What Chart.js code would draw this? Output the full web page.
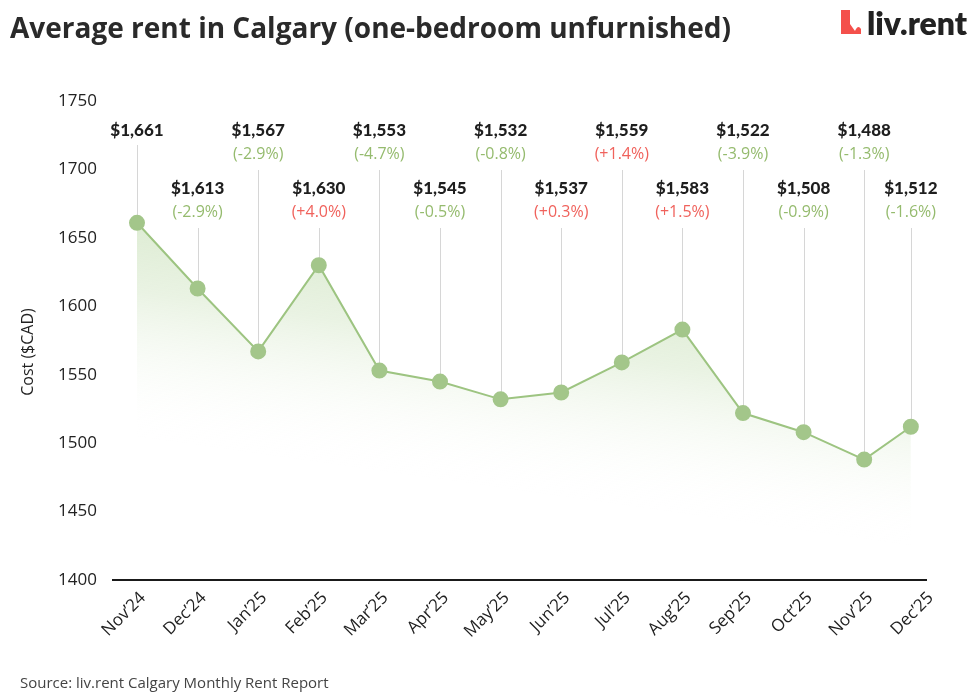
<!DOCTYPE html>
<html>
<head>
<meta charset="utf-8">
<script src="https://cdn.jsdelivr.net/npm/chart.js@4.4.1/dist/chart.umd.min.js"></script>
<style>
  html, body { margin: 0; padding: 0; background: #fff; }
  #wrap { position: relative; width: 980px; height: 700px; }
</style>
</head>
<body>
<div id="wrap"><canvas id="c" width="980" height="700"></canvas></div>
<script>
// ---- data ----
const categories = ["Nov\u201924","Dec\u201924","Jan\u201925","Feb\u201925","Mar\u201925","Apr\u201925","May\u201925","Jun\u201925","Jul\u201925","Aug\u201925","Sep\u201925","Oct\u201925","Nov\u201925","Dec\u201925"];
// position of each report on the month axis (latest report sits a bit before the Dec'25 tick)
const reportPos = [0,1,2,3,4,5,6,7,8,9,10,11,12,12.77];
const rents = [1661,1613,1567,1630,1553,1545,1532,1537,1559,1583,1522,1508,1488,1512];
const changes = [null,-2.9,-2.9,4.0,-4.7,-0.5,-0.8,0.3,1.4,1.5,-3.9,-0.9,-1.3,-1.6];
const yTicks = [1400,1450,1500,1550,1600,1650,1700,1750];

const titleText = "Average rent in Calgary (one-bedroom unfurnished)";
const sourceText = "Source: liv.rent Calgary Monthly Rent Report";
const yTitle = "Cost ($CAD)";

const GREEN = '#95bb6e';
const RED = '#f0625c';

function fmtMoney(v){ return '$' + v.toLocaleString('en-US'); }
function fmtPct(v){ return '(' + (v > 0 ? '+' : '') + v.toFixed(1) + '%)'; }

const decor = {
  id: 'decor',
  beforeDatasetsDraw(chart){
    const {ctx, scales:{x, y}} = chart;
    ctx.save();
    ctx.strokeStyle = '#d6d6d6';
    ctx.lineWidth = 1;
    rents.forEach((v, i) => {
      const px = Math.round(x.getPixelForValue(reportPos[i])) + 0.5;
      const py = y.getPixelForValue(v);
      const top = i % 2 === 0;
      let start;
      if (top) start = changes[i] === null ? 145 : 170;
      else start = 228;
      ctx.beginPath();
      ctx.moveTo(px, start);
      ctx.lineTo(px, py);
      ctx.stroke();
    });
    ctx.restore();
  },
  afterDatasetsDraw(chart){
    const {ctx, scales:{x, y}} = chart;
    ctx.save();
    ctx.textAlign = 'center';
    ctx.textBaseline = 'middle';
    rents.forEach((v, i) => {
      const px = x.getPixelForValue(reportPos[i]);
      const top = i % 2 === 0;
      const vy = top ? 131 : 189;
      ctx.fillStyle = '#1e1e1e';
      ctx.font = '900 17px Lato';
      ctx.fillText(fmtMoney(v), px, vy);
      if (changes[i] !== null) {
        ctx.fillStyle = changes[i] > 0 ? RED : GREEN;
        ctx.font = '400 16px "Open Sans"';
        ctx.fillText(fmtPct(changes[i]), px, vy + 23);
      }
    });
    ctx.restore();
  },
  afterDraw(chart){
    const {ctx} = chart;
    ctx.save();
    // title
    ctx.fillStyle = '#2a2a2a';
    ctx.font = '700 28px "Open Sans"';
    ctx.textAlign = 'left';
    ctx.textBaseline = 'alphabetic';
    ctx.fillText(titleText, 10, 38);
    // logo icon
    ctx.fillStyle = '#f4504b';
    ctx.beginPath();
    ctx.moveTo(841, 10);
    ctx.lineTo(850, 10);
    ctx.lineTo(850, 24);
    ctx.lineTo(855, 31);
    ctx.quadraticCurveTo(858, 24, 861, 29);
    ctx.lineTo(861, 34);
    ctx.lineTo(841, 34);
    ctx.closePath();
    ctx.fill();
    // logo text
    ctx.fillStyle = '#222';
    ctx.font = '800 32px Lato';
    ctx.fillText('liv.rent', 867, 35);
    // source
    ctx.fillStyle = '#444';
    ctx.font = '400 15px "Open Sans"';
    ctx.fillText(sourceText, 20, 688);
    // y title
    ctx.translate(28, 352);
    ctx.rotate(-Math.PI/2);
    ctx.textAlign = 'center';
    ctx.textBaseline = 'middle';
    ctx.fillStyle = '#222';
    ctx.font = '400 16px "Open Sans"';
    ctx.fillText(yTitle, 0, 0);
    ctx.restore();
  }
};

function fillGradient(context){
  const chart = context.chart;
  const area = chart.chartArea;
  if (!area) return 'rgba(150,195,120,0.3)';
  const c = chart.ctx;
  const x0 = 524, y0 = 492;             // point on fade line
  const nx = -0.1393, ny = 0.9903;      // normal to fade line
  const L = 290;
  const g = c.createLinearGradient(x0 - nx*L, y0 - ny*L, x0, y0);
  g.addColorStop(0, 'rgba(155,198,125,0.48)');
  g.addColorStop(0.5, 'rgba(165,204,138,0.24)');
  g.addColorStop(1, 'rgba(255,255,255,0)');
  return g;
}

new Chart(document.getElementById('c'), {
  type: 'line',
  data: {
    datasets: [{
      data: rents.map((v, i) => ({x: reportPos[i], y: v})),
      borderColor: '#9dc481',
      borderWidth: 2,
      pointBackgroundColor: '#a3c68a',
      pointBorderColor: '#a3c68a',
      pointRadius: 7,
      pointHoverRadius: 7,
      tension: 0,
      fill: 'start',
      backgroundColor: fillGradient
    }]
  },
  options: {
    responsive: false,
    animation: false,
    devicePixelRatio: 1,
    layout: { padding: { left: 0, right: 54, top: 101, bottom: 0 } },
    plugins: { legend: { display: false }, tooltip: { enabled: false }, title: { display: false } },
    scales: {
      x: {
        type: 'linear',
        min: -0.396,
        max: 13.02,
        afterBuildTicks(s){ s.ticks = categories.map((_, i) => ({value: i})); },
        afterFit(s){ s.height = 120; },
        grid: { display: false, drawTicks: false },
        border: { display: true, color: '#1a1a1a', width: 2 },
        ticks: {
          autoSkip: false,
          minRotation: 45,
          maxRotation: 45,
          padding: 8,
          labelOffset: 6,
          color: '#222',
          font: { family: 'Open Sans', size: 17 },
          callback: (v) => categories[v]
        }
      },
      y: {
        min: 1400,
        max: 1750,
        afterBuildTicks(s){ s.ticks = yTicks.map(v => ({value: v})); },
        afterFit(s){ s.width = 113; },
        grid: { display: false, drawTicks: false },
        border: { display: false },
        ticks: {
          padding: 16,
          color: '#222',
          font: { family: 'Open Sans', size: 17 },
          callback: (v) => String(v)
        }
      }
    }
  },
  plugins: [decor]
});
</script>
</body>
</html>
